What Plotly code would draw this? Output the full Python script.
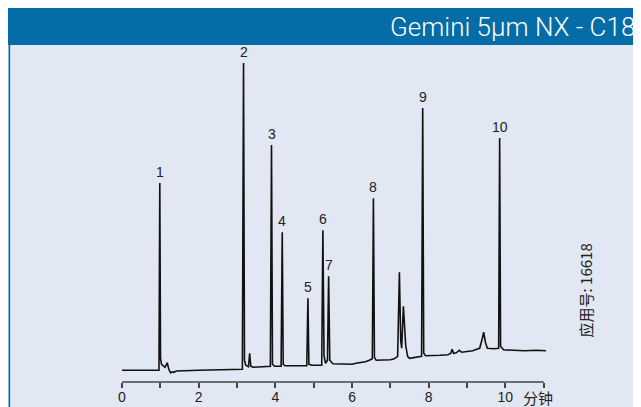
import plotly.graph_objects as go

# ---- data (time in min, signal in relative units) ----
time = [0.00, 0.965, 0.986, 1.005, 1.03, 1.07, 1.12, 1.18, 1.22, 1.27, 1.31, 1.35, 1.42, 2.00, 2.80, 3.14,
        3.17, 3.195, 3.23, 3.30, 3.33, 3.36, 3.42, 3.60, 3.87,
        3.90, 3.925, 3.98, 4.15,
        4.18, 4.205, 4.26, 4.50, 4.82,
        4.85, 4.875, 4.95, 5.21,
        5.24, 5.27, 5.31, 5.36,
        5.39, 5.42, 5.50, 5.80, 6.00, 6.10, 6.25, 6.35, 6.45, 6.53,
        6.558, 6.585, 6.63, 6.80, 7.00, 7.10, 7.19,
        7.236, 7.27, 7.295, 7.34, 7.40, 7.45, 7.50, 7.60, 7.75, 7.815,
        7.844, 7.87, 7.92, 8.00, 8.30, 8.50, 8.58, 8.61, 8.65, 8.72, 8.80, 8.86, 9.00, 9.15, 9.25, 9.33,
        9.40, 9.435, 9.48, 9.53, 9.70, 9.825,
        9.851, 9.875, 9.95, 10.20, 10.50, 10.80, 11.06]
signal = [0, 0, 187, 12, 6, 5, 3, 7.5, 1, -2.5, -1.5, -2, -0.7, 0, 0.5, 1,
          307, 10, 5, 3.5, 17, 4, 3, 3.5, 4,
          225, 6, 4, 4,
          138, 6, 4.5, 4.3, 4.5,
          72, 6, 5, 5,
          140, 14, 7, 10,
          94, 10, 6.5, 6, 6, 7, 7.5, 8.5, 10, 11.5,
          172, 13, 10, 10, 10.5, 11.5, 14,
          98, 30, 22, 64, 25, 14, 12, 12.5, 13, 14,
          262, 17, 14.5, 14.5, 15, 15.5, 17, 21, 17, 17.5, 20, 18, 18.5, 19.5, 21, 22,
          32, 38, 28, 22, 21.5, 22,
          232, 24, 20.5, 20, 19.5, 20, 19.5]

peak_ids = ["1", "2", "3", "4", "5", "6", "7", "8", "9", "10"]
peak_times = [0.986, 3.17, 3.90, 4.18, 4.85, 5.24, 5.39, 6.558, 7.844, 9.851]
peak_heights = [187, 307, 225, 138, 72, 140, 94, 172, 262, 232]

tick_vals = [0, 2, 4, 6, 8, 10]
tick_text = ["0", "2", "4", "6", "8", "10"]
minor_vals = [1, 3, 5, 7, 9, 11]

title_text = "Gemini 5µm NX - C18"
unit_text = "分钟"
app_text = "应用号: 16618"

# ---- layout geometry (the page body has an 8 px margin) ----
OFF = 8
FW, FH = 641 - OFF, 407 - OFF
L = 121.5 - OFF
T = 45 - OFF
B = 407 - 381.7
X_MAX = 11.06
PX_PER_MIN = 38.36
W = X_MAX * PX_PER_MIN
R = FW - L - W
H = FH - T - B
Y_MIN, Y_MAX = -11.7, 325

def px(x):  # page pixel -> paper x
    return (x - OFF - L) / W

def py(y):  # page pixel -> paper y
    return (FH - B - (y - OFF)) / H

BLUE = "#046CA6"
LIGHT = "#E1E8F3"
INK = "#111111"
AXIS = "#444444"
TEXT = "#222222"

fig = go.Figure()
fig.add_trace(go.Scatter(x=time, y=signal, mode="lines",
                         line=dict(color=INK, width=1.6), hoverinfo="skip"))

shapes = [
    dict(type="rect", xref="paper", yref="paper", x0=px(0), x1=px(660), y0=py(8), y1=py(45),
         fillcolor=BLUE, line=dict(width=0), layer="below"),
    dict(type="line", xref="paper", yref="paper", x0=px(8.8), x1=px(8.8), y0=py(45), y1=py(420),
         line=dict(color=BLUE, width=1.6), layer="below"),
    dict(type="line", xref="x", yref="paper", x0=0, x1=11, y0=0, y1=0,
         line=dict(color=AXIS, width=1.5)),
]

annotations = [
    dict(xref="paper", yref="paper", x=px(637), y=py(27), xanchor="right", yanchor="middle",
         text=title_text, showarrow=False,
         font=dict(family="Roboto", size=26, color="white", weight=300)),
    dict(xref="paper", yref="paper", x=px(538), y=py(397), xanchor="center", yanchor="middle",
         text=unit_text, showarrow=False,
         font=dict(family="Noto Sans CJK SC", size=15, color=TEXT)),
    dict(xref="paper", yref="paper", x=px(585), y=py(290), xanchor="center", yanchor="middle",
         text=app_text, showarrow=False, textangle=-90,
         font=dict(family="Noto Sans CJK SC", size=15, color=TEXT)),
]
for pid, pt, ph in zip(peak_ids, peak_times, peak_heights):
    annotations.append(dict(x=pt, y=ph, xref="x", yref="y", text=pid, showarrow=False,
                            xanchor="center", yanchor="bottom", yshift=1,
                            font=dict(family="Liberation Sans", size=14, color=TEXT)))

fig.update_layout(
    width=FW, height=FH,
    margin=dict(l=L, r=R, t=T, b=B, pad=0),
    paper_bgcolor=LIGHT, plot_bgcolor="rgba(0,0,0,0)",
    showlegend=False,
    shapes=shapes, annotations=annotations,
    xaxis=dict(range=[0, X_MAX], showgrid=False, zeroline=False, showline=False,
               tickmode="array", tickvals=tick_vals, ticktext=tick_text,
               ticks="outside", ticklen=5, tickwidth=1.5, tickcolor=AXIS,
               minor=dict(tickmode="array", tickvals=minor_vals, ticks="outside",
                          ticklen=5, tickwidth=1.5, tickcolor=AXIS),
               tickfont=dict(family="Liberation Sans", size=14, color=TEXT),
               ticklabelstandoff=-3,
               automargin=False, fixedrange=True),
    yaxis=dict(range=[Y_MIN, Y_MAX], visible=False, automargin=False, fixedrange=True),
)

fig.write_html("out.html")
